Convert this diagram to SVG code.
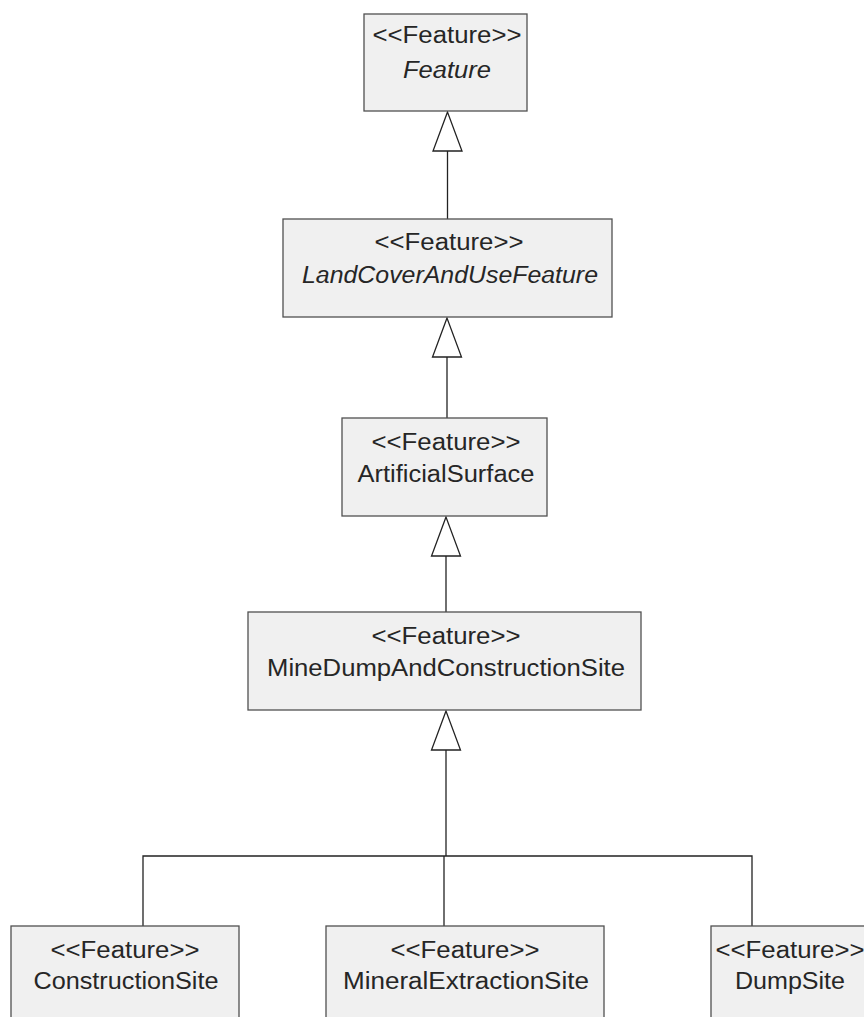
<svg xmlns="http://www.w3.org/2000/svg" width="864" height="1017" viewBox="0 0 864 1017">
<style>
.box{fill:#f0f0f0;stroke:#505050;stroke-width:1.3}
.t{font-family:"Liberation Sans",Arial,sans-serif;font-size:23.5px;fill:#262626;text-anchor:middle}
.i{font-style:italic}
.ln{fill:none;stroke:#222;stroke-width:1.3}
.ah{fill:#fff;stroke:#222;stroke-width:1.3;stroke-linejoin:miter}
</style>
<rect width="864" height="1017" fill="#fff"/>
<g id="connectors">
<polygon class="ah" points="447.5,112 433,151 462,151"/>
<line class="ln" x1="447.5" y1="151" x2="447.5" y2="219"/>
<polygon class="ah" points="447,318 432.5,357 461.5,357"/>
<line class="ln" x1="447" y1="357" x2="447" y2="418"/>
<polygon class="ah" points="446,517 431.5,556 460.5,556"/>
<line class="ln" x1="446" y1="556" x2="446" y2="612"/>
<polygon class="ah" points="446,711 431.5,750 460.5,750"/>
<line class="ln" x1="446" y1="750" x2="446" y2="856"/>
<polyline class="ln" points="143,926 143,856 752,856 752,926"/>
<line class="ln" x1="444" y1="856" x2="444" y2="926"/>
</g>
<g id="node-feature">
<rect class="box" x="364" y="14" width="163" height="97"/>
<text class="t" x="447" y="43" textLength="149" lengthAdjust="spacingAndGlyphs">&lt;&lt;Feature&gt;&gt;</text>
<text class="t i" x="447" y="78" textLength="88" lengthAdjust="spacingAndGlyphs">Feature</text>
</g>
<g id="node-landcover">
<rect class="box" x="283" y="219" width="329" height="98"/>
<text class="t" x="449" y="250" textLength="149" lengthAdjust="spacingAndGlyphs">&lt;&lt;Feature&gt;&gt;</text>
<text class="t i" x="450" y="283" textLength="296" lengthAdjust="spacingAndGlyphs">LandCoverAndUseFeature</text>
</g>
<g id="node-artificial">
<rect class="box" x="342" y="418" width="205" height="98"/>
<text class="t" x="446" y="450" textLength="149" lengthAdjust="spacingAndGlyphs">&lt;&lt;Feature&gt;&gt;</text>
<text class="t" x="446" y="482" textLength="177" lengthAdjust="spacingAndGlyphs">ArtificialSurface</text>
</g>
<g id="node-minedump">
<rect class="box" x="248" y="612" width="393" height="98"/>
<text class="t" x="446" y="644" textLength="149" lengthAdjust="spacingAndGlyphs">&lt;&lt;Feature&gt;&gt;</text>
<text class="t" x="446" y="676" textLength="358" lengthAdjust="spacingAndGlyphs">MineDumpAndConstructionSite</text>
</g>
<g id="node-construction">
<rect class="box" x="11" y="926" width="228" height="110"/>
<text class="t" x="125" y="958" textLength="149" lengthAdjust="spacingAndGlyphs">&lt;&lt;Feature&gt;&gt;</text>
<text class="t" x="126" y="989" textLength="185" lengthAdjust="spacingAndGlyphs">ConstructionSite</text>
</g>
<g id="node-mineral">
<rect class="box" x="326" y="926" width="278" height="110"/>
<text class="t" x="465" y="958" textLength="149" lengthAdjust="spacingAndGlyphs">&lt;&lt;Feature&gt;&gt;</text>
<text class="t" x="466" y="989" textLength="246" lengthAdjust="spacingAndGlyphs">MineralExtractionSite</text>
</g>
<g id="node-dump">
<rect class="box" x="711" y="926" width="170" height="110"/>
<text class="t" x="790" y="958" textLength="149" lengthAdjust="spacingAndGlyphs">&lt;&lt;Feature&gt;&gt;</text>
<text class="t" x="790" y="989" textLength="110" lengthAdjust="spacingAndGlyphs">DumpSite</text>
</g>
</svg>
